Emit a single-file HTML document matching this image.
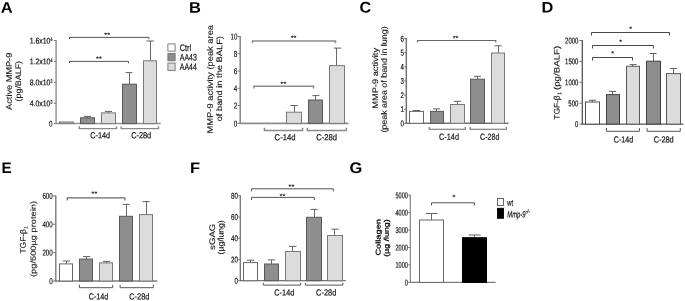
<!DOCTYPE html>
<html><head><meta charset="utf-8"><title>Figure</title>
<style>
html,body{margin:0;padding:0;background:#fff;}
svg{display:block;filter:blur(0.25px);font-family:'Liberation Sans', 'DejaVu Sans', sans-serif;}
text{stroke:#111;stroke-width:0.2px;paint-order:stroke fill;}
text.L{stroke:none;}
text.S{stroke-width:0.1px;letter-spacing:0.1px;}
text.R{stroke-width:0.12px;}
</style></head>
<body>
<svg width="685" height="301" viewBox="0 0 685 301">
<rect x="0" y="0" width="685" height="301" fill="#ffffff" stroke="none"/>
<text class="L" transform="translate(0.8 12.8) scale(1.07 1.0) rotate(0.06)" font-size="15.4" font-weight="bold" fill="#000">A</text>
<text class="L" transform="translate(189.0 12.7) scale(1.07 1.0) rotate(0.06)" font-size="15.4" font-weight="bold" fill="#000">B</text>
<text class="L" transform="translate(359.6 12.6) scale(1.05 1.0) rotate(0.06)" font-size="15.4" font-weight="bold" fill="#000">C</text>
<text class="L" transform="translate(541.6 12.4) scale(1.06 1.0) rotate(0.06)" font-size="15.4" font-weight="bold" fill="#000">D</text>
<text class="L" transform="translate(1.6 172.9) scale(0.99 1.0) rotate(0.06)" font-size="15.4" font-weight="bold" fill="#000">E</text>
<text class="L" transform="translate(189.9 172.9) scale(1.07 1.0) rotate(0.06)" font-size="15.4" font-weight="bold" fill="#000">F</text>
<text class="L" transform="translate(349.4 172.9) scale(1.07 1.0) rotate(0.06)" font-size="15.4" font-weight="bold" fill="#000">G</text>
<line x1="56.10" y1="40.00" x2="56.10" y2="124.10" stroke="#929292" stroke-width="1.5"/>
<line x1="53.85" y1="40.50" x2="56.10" y2="40.50" stroke="#777" stroke-width="1.0"/>
<text transform="translate(52.45 41.00) rotate(0.06)" font-size="5.247999999999999" text-anchor="end" textLength="2.00" lengthAdjust="spacingAndGlyphs" fill="#111">4</text>
<text transform="translate(50.45 43.41) rotate(0.06)" font-size="8.2" text-anchor="end" textLength="20.80" lengthAdjust="spacingAndGlyphs" fill="#111">1.6x10</text>
<line x1="53.85" y1="61.40" x2="56.10" y2="61.40" stroke="#777" stroke-width="1.0"/>
<text transform="translate(52.45 61.90) rotate(0.06)" font-size="5.247999999999999" text-anchor="end" textLength="2.00" lengthAdjust="spacingAndGlyphs" fill="#111">4</text>
<text transform="translate(50.45 64.31) rotate(0.06)" font-size="8.2" text-anchor="end" textLength="20.80" lengthAdjust="spacingAndGlyphs" fill="#111">1.2x10</text>
<line x1="53.85" y1="82.40" x2="56.10" y2="82.40" stroke="#777" stroke-width="1.0"/>
<text transform="translate(52.45 82.90) rotate(0.06)" font-size="5.247999999999999" text-anchor="end" textLength="2.00" lengthAdjust="spacingAndGlyphs" fill="#111">3</text>
<text transform="translate(50.45 85.31) rotate(0.06)" font-size="8.2" text-anchor="end" textLength="20.80" lengthAdjust="spacingAndGlyphs" fill="#111">8.0x10</text>
<line x1="53.85" y1="103.30" x2="56.10" y2="103.30" stroke="#777" stroke-width="1.0"/>
<text transform="translate(52.45 103.80) rotate(0.06)" font-size="5.247999999999999" text-anchor="end" textLength="2.00" lengthAdjust="spacingAndGlyphs" fill="#111">3</text>
<text transform="translate(50.45 106.21) rotate(0.06)" font-size="8.2" text-anchor="end" textLength="20.80" lengthAdjust="spacingAndGlyphs" fill="#111">4.0x10</text>
<line x1="53.85" y1="123.60" x2="56.10" y2="123.60" stroke="#777" stroke-width="1.0"/>
<text transform="translate(52.45 126.51) rotate(0.06)" font-size="8.2" text-anchor="end" textLength="3.50" lengthAdjust="spacingAndGlyphs" fill="#111">0</text>
<line x1="55.35" y1="123.60" x2="160.70" y2="123.60" stroke="#929292" stroke-width="1.5"/>
<rect x="59.50" y="122.00" width="14.00" height="1.30" fill="#f4f4f4" stroke="#686868" stroke-width="0.9"/>
<line x1="87.50" y1="116.40" x2="87.50" y2="117.80" stroke="#686868" stroke-width="1.0"/>
<line x1="83.90" y1="116.40" x2="91.10" y2="116.40" stroke="#606060" stroke-width="1.0"/>
<rect x="80.50" y="117.80" width="14.00" height="5.80" fill="#8e8e8e" stroke="#585858" stroke-width="1.0"/>
<line x1="108.50" y1="111.40" x2="108.50" y2="112.90" stroke="#686868" stroke-width="1.0"/>
<line x1="104.90" y1="111.40" x2="112.10" y2="111.40" stroke="#606060" stroke-width="1.0"/>
<rect x="101.50" y="112.90" width="14.00" height="10.70" fill="#dcdcdc" stroke="#787878" stroke-width="1.0"/>
<line x1="129.50" y1="72.60" x2="129.50" y2="84.20" stroke="#686868" stroke-width="1.0"/>
<line x1="125.60" y1="72.60" x2="132.40" y2="72.60" stroke="#606060" stroke-width="1.0"/>
<rect x="122.50" y="84.20" width="14.00" height="39.40" fill="#8e8e8e" stroke="#585858" stroke-width="1.0"/>
<line x1="150.50" y1="41.00" x2="150.50" y2="60.80" stroke="#686868" stroke-width="1.0"/>
<line x1="146.50" y1="41.00" x2="153.80" y2="41.00" stroke="#606060" stroke-width="1.0"/>
<rect x="143.50" y="60.80" width="13.00" height="62.80" fill="#dcdcdc" stroke="#787878" stroke-width="1.0"/>
<path d="M69.50 39.20 V37.40 H149.00 V39.20" fill="none" stroke="#555" stroke-width="1.0"/>
<path d="M69.50 63.20 V61.40 H128.50 V63.20" fill="none" stroke="#555" stroke-width="1.0"/>
<text class="S" transform="translate(107.30 37.50) rotate(0.06)" font-size="7.3" text-anchor="middle" fill="#111">**</text>
<text class="S" transform="translate(98.90 61.20) rotate(0.06)" font-size="7.3" text-anchor="middle" fill="#111">**</text>
<path d="M79.30 126.30 V128.60 H116.50 V126.30" fill="none" stroke="#8a8a8a" stroke-width="1.4"/>
<path d="M121.20 126.30 V128.60 H158.50 V126.30" fill="none" stroke="#8a8a8a" stroke-width="1.4"/>
<text transform="translate(100.10 138.30) rotate(0.06)" font-size="8.8" text-anchor="middle" textLength="19.80" lengthAdjust="spacingAndGlyphs" fill="#111">C-14d</text>
<text transform="translate(141.20 138.30) rotate(0.06)" font-size="8.8" text-anchor="middle" textLength="20.00" lengthAdjust="spacingAndGlyphs" fill="#111">C-28d</text>
<text transform="translate(11.70 81.30) rotate(-89.94)" font-size="8" text-anchor="middle" textLength="57.20" lengthAdjust="spacingAndGlyphs" fill="#111" class="R">Active MMP-9</text>
<text transform="translate(20.90 81.20) rotate(-89.94)" font-size="8" text-anchor="middle" textLength="40.60" lengthAdjust="spacingAndGlyphs" fill="#111" class="R">(pg/BALF)</text>
<rect x="167.90" y="43.90" width="7.20" height="7.30" fill="#ffffff" stroke="#727272" stroke-width="0.9"/>
<text transform="translate(179.80 50.90) rotate(0.06)" font-size="9.4" textLength="11.30" lengthAdjust="spacingAndGlyphs" fill="#111">Ctrl</text>
<rect x="167.90" y="53.50" width="7.20" height="7.30" fill="#8e8e8e" stroke="#727272" stroke-width="0.9"/>
<text transform="translate(179.80 60.50) rotate(0.06)" font-size="9.4" textLength="17.00" lengthAdjust="spacingAndGlyphs" fill="#111">AA43</text>
<rect x="167.90" y="63.10" width="7.20" height="7.30" fill="#dcdcdc" stroke="#727272" stroke-width="0.9"/>
<text transform="translate(179.80 69.90) rotate(0.06)" font-size="9.4" textLength="17.00" lengthAdjust="spacingAndGlyphs" fill="#111">AA44</text>
<line x1="240.20" y1="36.00" x2="240.20" y2="123.90" stroke="#8c8c8c" stroke-width="1.6"/>
<line x1="237.60" y1="36.50" x2="240.20" y2="36.50" stroke="#777" stroke-width="1.0"/>
<text transform="translate(237.30 39.48) rotate(0.06)" font-size="8.4" text-anchor="end" textLength="6.80" lengthAdjust="spacingAndGlyphs" fill="#111">10</text>
<line x1="237.60" y1="53.70" x2="240.20" y2="53.70" stroke="#777" stroke-width="1.0"/>
<text transform="translate(237.30 56.68) rotate(0.06)" font-size="8.4" text-anchor="end" textLength="3.50" lengthAdjust="spacingAndGlyphs" fill="#111">8</text>
<line x1="237.60" y1="71.00" x2="240.20" y2="71.00" stroke="#777" stroke-width="1.0"/>
<text transform="translate(237.30 73.98) rotate(0.06)" font-size="8.4" text-anchor="end" textLength="3.50" lengthAdjust="spacingAndGlyphs" fill="#111">6</text>
<line x1="237.60" y1="88.30" x2="240.20" y2="88.30" stroke="#777" stroke-width="1.0"/>
<text transform="translate(237.30 91.28) rotate(0.06)" font-size="8.4" text-anchor="end" textLength="3.50" lengthAdjust="spacingAndGlyphs" fill="#111">4</text>
<line x1="237.60" y1="105.60" x2="240.20" y2="105.60" stroke="#777" stroke-width="1.0"/>
<text transform="translate(237.30 108.58) rotate(0.06)" font-size="8.4" text-anchor="end" textLength="3.50" lengthAdjust="spacingAndGlyphs" fill="#111">2</text>
<line x1="237.60" y1="123.40" x2="240.20" y2="123.40" stroke="#777" stroke-width="1.0"/>
<text transform="translate(237.30 126.38) rotate(0.06)" font-size="8.4" text-anchor="end" textLength="3.50" lengthAdjust="spacingAndGlyphs" fill="#111">0</text>
<line x1="239.40" y1="123.40" x2="348.50" y2="123.40" stroke="#8c8c8c" stroke-width="1.6"/>
<line x1="294.50" y1="105.50" x2="294.50" y2="112.20" stroke="#686868" stroke-width="1.0"/>
<line x1="290.40" y1="105.50" x2="297.70" y2="105.50" stroke="#606060" stroke-width="1.0"/>
<rect x="286.50" y="112.20" width="15.00" height="11.20" fill="#dcdcdc" stroke="#787878" stroke-width="1.0"/>
<line x1="315.50" y1="95.60" x2="315.50" y2="100.00" stroke="#686868" stroke-width="1.0"/>
<line x1="312.40" y1="95.60" x2="319.40" y2="95.60" stroke="#606060" stroke-width="1.0"/>
<rect x="308.50" y="100.00" width="14.00" height="23.40" fill="#8e8e8e" stroke="#585858" stroke-width="1.0"/>
<line x1="336.50" y1="48.10" x2="336.50" y2="65.60" stroke="#686868" stroke-width="1.0"/>
<line x1="333.80" y1="48.10" x2="341.10" y2="48.10" stroke="#606060" stroke-width="1.0"/>
<rect x="329.50" y="65.60" width="15.00" height="57.80" fill="#dcdcdc" stroke="#787878" stroke-width="1.0"/>
<path d="M252.50 43.30 V41.10 H335.50 V43.30" fill="none" stroke="#8c8c8c" stroke-width="1.5"/>
<path d="M253.90 88.60 V86.20 H313.50 V88.60" fill="none" stroke="#8c8c8c" stroke-width="1.5"/>
<text class="S" transform="translate(293.60 40.40) rotate(0.06)" font-size="7.3" text-anchor="middle" fill="#111">**</text>
<text class="S" transform="translate(283.50 86.40) rotate(0.06)" font-size="7.3" text-anchor="middle" fill="#111">**</text>
<path d="M264.40 127.80 V130.40 H302.60 V127.80" fill="none" stroke="#8a8a8a" stroke-width="1.5"/>
<path d="M307.30 127.80 V130.40 H346.30 V127.80" fill="none" stroke="#8a8a8a" stroke-width="1.5"/>
<text transform="translate(285.10 140.20) rotate(0.06)" font-size="8.8" text-anchor="middle" textLength="21.00" lengthAdjust="spacingAndGlyphs" fill="#111">C-14d</text>
<text transform="translate(326.70 140.20) rotate(0.06)" font-size="8.8" text-anchor="middle" textLength="20.80" lengthAdjust="spacingAndGlyphs" fill="#111">C-28d</text>
<text transform="translate(212.70 79.20) rotate(-89.94)" font-size="8" text-anchor="middle" textLength="108.50" lengthAdjust="spacingAndGlyphs" fill="#111" class="R">MMP-9 activity (peak area</text>
<text transform="translate(222.10 78.70) rotate(-89.94)" font-size="8" text-anchor="middle" textLength="85.20" lengthAdjust="spacingAndGlyphs" fill="#111" class="R">of band in the BALF)</text>
<line x1="406.30" y1="38.00" x2="406.30" y2="123.80" stroke="#747474" stroke-width="1.5"/>
<line x1="404.15" y1="38.50" x2="406.30" y2="38.50" stroke="#777" stroke-width="1.0"/>
<text transform="translate(403.95 41.41) rotate(0.06)" font-size="8.2" text-anchor="end" textLength="3.40" lengthAdjust="spacingAndGlyphs" fill="#111">6</text>
<line x1="404.15" y1="52.60" x2="406.30" y2="52.60" stroke="#777" stroke-width="1.0"/>
<text transform="translate(403.95 55.51) rotate(0.06)" font-size="8.2" text-anchor="end" textLength="3.40" lengthAdjust="spacingAndGlyphs" fill="#111">5</text>
<line x1="404.15" y1="66.80" x2="406.30" y2="66.80" stroke="#777" stroke-width="1.0"/>
<text transform="translate(403.95 69.71) rotate(0.06)" font-size="8.2" text-anchor="end" textLength="3.40" lengthAdjust="spacingAndGlyphs" fill="#111">4</text>
<line x1="404.15" y1="80.90" x2="406.30" y2="80.90" stroke="#777" stroke-width="1.0"/>
<text transform="translate(403.95 83.81) rotate(0.06)" font-size="8.2" text-anchor="end" textLength="3.40" lengthAdjust="spacingAndGlyphs" fill="#111">3</text>
<line x1="404.15" y1="95.10" x2="406.30" y2="95.10" stroke="#777" stroke-width="1.0"/>
<text transform="translate(403.95 98.01) rotate(0.06)" font-size="8.2" text-anchor="end" textLength="3.40" lengthAdjust="spacingAndGlyphs" fill="#111">2</text>
<line x1="404.15" y1="109.20" x2="406.30" y2="109.20" stroke="#777" stroke-width="1.0"/>
<text transform="translate(403.95 112.11) rotate(0.06)" font-size="8.2" text-anchor="end" textLength="3.40" lengthAdjust="spacingAndGlyphs" fill="#111">1</text>
<line x1="404.15" y1="123.30" x2="406.30" y2="123.30" stroke="#777" stroke-width="1.0"/>
<text transform="translate(403.95 126.21) rotate(0.06)" font-size="8.2" text-anchor="end" textLength="3.40" lengthAdjust="spacingAndGlyphs" fill="#111">0</text>
<line x1="405.55" y1="123.30" x2="508.50" y2="123.30" stroke="#747474" stroke-width="1.5"/>
<line x1="416.50" y1="110.50" x2="416.50" y2="111.40" stroke="#686868" stroke-width="1.0"/>
<line x1="412.90" y1="110.50" x2="420.10" y2="110.50" stroke="#606060" stroke-width="1.0"/>
<rect x="409.50" y="111.40" width="14.00" height="11.90" fill="#ffffff" stroke="#686868" stroke-width="1.0"/>
<line x1="436.50" y1="108.90" x2="436.50" y2="111.40" stroke="#686868" stroke-width="1.0"/>
<line x1="432.90" y1="108.90" x2="440.10" y2="108.90" stroke="#606060" stroke-width="1.0"/>
<rect x="430.50" y="111.40" width="13.00" height="11.90" fill="#8e8e8e" stroke="#585858" stroke-width="1.0"/>
<line x1="457.50" y1="101.30" x2="457.50" y2="104.50" stroke="#686868" stroke-width="1.0"/>
<line x1="453.90" y1="101.30" x2="461.10" y2="101.30" stroke="#606060" stroke-width="1.0"/>
<rect x="450.50" y="104.50" width="14.00" height="18.80" fill="#dcdcdc" stroke="#787878" stroke-width="1.0"/>
<line x1="477.50" y1="76.30" x2="477.50" y2="79.20" stroke="#686868" stroke-width="1.0"/>
<line x1="473.90" y1="76.30" x2="481.10" y2="76.30" stroke="#606060" stroke-width="1.0"/>
<rect x="470.50" y="79.20" width="14.00" height="44.10" fill="#8e8e8e" stroke="#585858" stroke-width="1.0"/>
<line x1="498.50" y1="45.80" x2="498.50" y2="53.00" stroke="#686868" stroke-width="1.0"/>
<line x1="494.40" y1="45.80" x2="501.70" y2="45.80" stroke="#606060" stroke-width="1.0"/>
<rect x="491.50" y="53.00" width="13.00" height="70.30" fill="#dcdcdc" stroke="#787878" stroke-width="1.0"/>
<path d="M417.60 42.50 V40.50 H495.80 V42.50" fill="none" stroke="#666" stroke-width="1.1"/>
<text class="S" transform="translate(455.60 40.70) rotate(0.06)" font-size="7.3" text-anchor="middle" fill="#111">**</text>
<path d="M429.20 126.90 V129.20 H465.40 V126.90" fill="none" stroke="#6a6a6a" stroke-width="1.1"/>
<path d="M470.10 126.90 V129.20 H506.30 V126.90" fill="none" stroke="#6a6a6a" stroke-width="1.1"/>
<text transform="translate(449.00 139.80) rotate(0.06)" font-size="8.8" text-anchor="middle" textLength="19.90" lengthAdjust="spacingAndGlyphs" fill="#111">C-14d</text>
<text transform="translate(489.70 139.80) rotate(0.06)" font-size="8.8" text-anchor="middle" textLength="19.40" lengthAdjust="spacingAndGlyphs" fill="#111">C-28d</text>
<text transform="translate(378.10 78.40) rotate(-89.94)" font-size="8" text-anchor="middle" textLength="60.90" lengthAdjust="spacingAndGlyphs" fill="#111" class="R">MMP-9 activity</text>
<text transform="translate(386.80 79.50) rotate(-89.94)" font-size="8" text-anchor="middle" textLength="106.20" lengthAdjust="spacingAndGlyphs" fill="#111" class="R">(peak area of band in lung)</text>
<line x1="582.30" y1="40.00" x2="582.30" y2="124.60" stroke="#555" stroke-width="1.3"/>
<line x1="579.35" y1="40.50" x2="582.30" y2="40.50" stroke="#777" stroke-width="1.0"/>
<text transform="translate(578.35 43.45) rotate(0.06)" font-size="8.3" text-anchor="end" textLength="13.30" lengthAdjust="spacingAndGlyphs" fill="#111">2000</text>
<line x1="579.35" y1="61.40" x2="582.30" y2="61.40" stroke="#777" stroke-width="1.0"/>
<text transform="translate(578.35 64.35) rotate(0.06)" font-size="8.3" text-anchor="end" textLength="13.30" lengthAdjust="spacingAndGlyphs" fill="#111">1500</text>
<line x1="579.35" y1="82.30" x2="582.30" y2="82.30" stroke="#777" stroke-width="1.0"/>
<text transform="translate(578.35 85.25) rotate(0.06)" font-size="8.3" text-anchor="end" textLength="13.30" lengthAdjust="spacingAndGlyphs" fill="#111">1000</text>
<line x1="579.35" y1="103.20" x2="582.30" y2="103.20" stroke="#777" stroke-width="1.0"/>
<text transform="translate(578.35 106.15) rotate(0.06)" font-size="8.3" text-anchor="end" textLength="10.00" lengthAdjust="spacingAndGlyphs" fill="#111">500</text>
<line x1="579.35" y1="124.10" x2="582.30" y2="124.10" stroke="#777" stroke-width="1.0"/>
<text transform="translate(578.35 127.05) rotate(0.06)" font-size="8.3" text-anchor="end" textLength="3.30" lengthAdjust="spacingAndGlyphs" fill="#111">0</text>
<line x1="581.65" y1="124.10" x2="683.20" y2="124.10" stroke="#555" stroke-width="1.3"/>
<line x1="592.50" y1="100.20" x2="592.50" y2="102.00" stroke="#686868" stroke-width="1.0"/>
<line x1="588.90" y1="100.20" x2="596.10" y2="100.20" stroke="#606060" stroke-width="1.0"/>
<rect x="585.50" y="102.00" width="14.00" height="22.10" fill="#ffffff" stroke="#505050" stroke-width="1.0"/>
<line x1="612.50" y1="91.40" x2="612.50" y2="94.60" stroke="#686868" stroke-width="1.0"/>
<line x1="608.90" y1="91.40" x2="616.10" y2="91.40" stroke="#606060" stroke-width="1.0"/>
<rect x="606.50" y="94.60" width="13.00" height="29.50" fill="#8e8e8e" stroke="#404040" stroke-width="1.0"/>
<line x1="632.50" y1="64.60" x2="632.50" y2="66.30" stroke="#686868" stroke-width="1.0"/>
<line x1="629.60" y1="64.60" x2="636.60" y2="64.60" stroke="#606060" stroke-width="1.0"/>
<rect x="626.50" y="66.30" width="13.00" height="57.80" fill="#dcdcdc" stroke="#5a5a5a" stroke-width="1.0"/>
<line x1="653.50" y1="53.50" x2="653.50" y2="61.20" stroke="#686868" stroke-width="1.0"/>
<line x1="649.80" y1="53.50" x2="656.60" y2="53.50" stroke="#606060" stroke-width="1.0"/>
<rect x="646.50" y="61.20" width="14.00" height="62.90" fill="#8e8e8e" stroke="#404040" stroke-width="1.0"/>
<line x1="673.50" y1="68.50" x2="673.50" y2="73.60" stroke="#686868" stroke-width="1.0"/>
<line x1="670.20" y1="68.50" x2="676.80" y2="68.50" stroke="#606060" stroke-width="1.0"/>
<rect x="666.50" y="73.60" width="14.00" height="50.50" fill="#dcdcdc" stroke="#5a5a5a" stroke-width="1.0"/>
<path d="M591.50 35.50 V32.50 H669.50 V35.50" fill="none" stroke="#484848" stroke-width="1.0"/>
<path d="M592.50 48.50 V45.50 H653.50 V48.50" fill="none" stroke="#484848" stroke-width="1.0"/>
<path d="M592.50 60.50 V57.50 H632.50 V60.50" fill="none" stroke="#484848" stroke-width="1.0"/>
<text class="S" transform="translate(630.60 31.50) rotate(0.06)" font-size="7.3" text-anchor="middle" fill="#111">*</text>
<text class="S" transform="translate(620.80 44.40) rotate(0.06)" font-size="7.3" text-anchor="middle" fill="#111">*</text>
<text class="S" transform="translate(612.80 56.10) rotate(0.06)" font-size="7.3" text-anchor="middle" fill="#111">*</text>
<path d="M606.50 128.10 V131.30 H639.40 V128.10" fill="none" stroke="#555" stroke-width="1.0"/>
<path d="M647.10 128.10 V131.30 H680.30 V128.10" fill="none" stroke="#555" stroke-width="1.0"/>
<text transform="translate(623.50 142.50) rotate(0.06)" font-size="8.8" text-anchor="middle" textLength="19.40" lengthAdjust="spacingAndGlyphs" fill="#111">C-14d</text>
<text transform="translate(663.70 142.50) rotate(0.06)" font-size="8.8" text-anchor="middle" textLength="20.00" lengthAdjust="spacingAndGlyphs" fill="#111">C-28d</text>
<text transform="translate(559.50 119.70) rotate(-89.94)" font-size="8" textLength="24.30" lengthAdjust="spacingAndGlyphs" fill="#111" class="R">TGF-β</text>
<text transform="translate(561.30 94.70) rotate(-89.94)" font-size="5.4" textLength="2.70" lengthAdjust="spacingAndGlyphs" fill="#111" class="R">1</text>
<text transform="translate(559.50 90.00) rotate(-89.94)" font-size="8" textLength="44.20" lengthAdjust="spacingAndGlyphs" fill="#111" class="R">(pg/BALF)</text>
<line x1="55.80" y1="195.40" x2="55.80" y2="281.50" stroke="#7c7c7c" stroke-width="1.4"/>
<line x1="52.90" y1="195.90" x2="55.80" y2="195.90" stroke="#777" stroke-width="1.0"/>
<text transform="translate(52.70 198.88) rotate(0.06)" font-size="8.4" text-anchor="end" textLength="10.30" lengthAdjust="spacingAndGlyphs" fill="#111">600</text>
<line x1="52.90" y1="224.20" x2="55.80" y2="224.20" stroke="#777" stroke-width="1.0"/>
<text transform="translate(52.70 227.18) rotate(0.06)" font-size="8.4" text-anchor="end" textLength="10.30" lengthAdjust="spacingAndGlyphs" fill="#111">400</text>
<line x1="52.90" y1="252.60" x2="55.80" y2="252.60" stroke="#777" stroke-width="1.0"/>
<text transform="translate(52.70 255.58) rotate(0.06)" font-size="8.4" text-anchor="end" textLength="10.30" lengthAdjust="spacingAndGlyphs" fill="#111">200</text>
<line x1="52.90" y1="281.00" x2="55.80" y2="281.00" stroke="#777" stroke-width="1.0"/>
<text transform="translate(52.70 283.98) rotate(0.06)" font-size="8.4" text-anchor="end" textLength="3.50" lengthAdjust="spacingAndGlyphs" fill="#111">0</text>
<line x1="55.10" y1="281.00" x2="157.30" y2="281.00" stroke="#7c7c7c" stroke-width="1.4"/>
<line x1="66.50" y1="261.00" x2="66.50" y2="263.90" stroke="#686868" stroke-width="1.0"/>
<line x1="62.90" y1="261.00" x2="70.10" y2="261.00" stroke="#606060" stroke-width="1.0"/>
<rect x="59.50" y="263.90" width="13.00" height="17.10" fill="#ffffff" stroke="#686868" stroke-width="1.0"/>
<line x1="86.50" y1="256.60" x2="86.50" y2="259.10" stroke="#686868" stroke-width="1.0"/>
<line x1="82.90" y1="256.60" x2="90.10" y2="256.60" stroke="#606060" stroke-width="1.0"/>
<rect x="79.50" y="259.10" width="13.00" height="21.90" fill="#8e8e8e" stroke="#585858" stroke-width="1.0"/>
<line x1="106.50" y1="261.40" x2="106.50" y2="262.90" stroke="#686868" stroke-width="1.0"/>
<line x1="102.90" y1="261.40" x2="110.10" y2="261.40" stroke="#606060" stroke-width="1.0"/>
<rect x="99.50" y="262.90" width="13.00" height="18.10" fill="#dcdcdc" stroke="#787878" stroke-width="1.0"/>
<line x1="126.50" y1="204.40" x2="126.50" y2="216.30" stroke="#686868" stroke-width="1.0"/>
<line x1="122.70" y1="204.40" x2="129.70" y2="204.40" stroke="#606060" stroke-width="1.0"/>
<rect x="119.50" y="216.30" width="13.00" height="64.70" fill="#8e8e8e" stroke="#585858" stroke-width="1.0"/>
<line x1="146.50" y1="201.60" x2="146.50" y2="214.60" stroke="#686868" stroke-width="1.0"/>
<line x1="142.60" y1="201.60" x2="149.60" y2="201.60" stroke="#606060" stroke-width="1.0"/>
<rect x="139.50" y="214.60" width="13.00" height="66.40" fill="#dcdcdc" stroke="#787878" stroke-width="1.0"/>
<path d="M67.30 200.60 V197.80 H124.90 V200.60" fill="none" stroke="#6a6a6a" stroke-width="1.2"/>
<text class="S" transform="translate(94.55 196.20) rotate(0.06)" font-size="7.3" text-anchor="middle" fill="#111">**</text>
<path d="M79.40 284.70 V287.70 H112.70 V284.70" fill="none" stroke="#555" stroke-width="1.0"/>
<path d="M120.10 284.70 V287.70 H153.30 V284.70" fill="none" stroke="#555" stroke-width="1.0"/>
<text transform="translate(98.50 299.40) rotate(0.06)" font-size="8.8" text-anchor="middle" textLength="19.70" lengthAdjust="spacingAndGlyphs" fill="#111">C-14d</text>
<text transform="translate(139.30 299.40) rotate(0.06)" font-size="8.8" text-anchor="middle" textLength="20.20" lengthAdjust="spacingAndGlyphs" fill="#111">C-28d</text>
<text transform="translate(25.70 253.50) rotate(-89.94)" font-size="8" textLength="24.40" lengthAdjust="spacingAndGlyphs" fill="#111" class="R">TGF-β</text>
<text transform="translate(27.50 228.80) rotate(-89.94)" font-size="5.4" textLength="2.50" lengthAdjust="spacingAndGlyphs" fill="#111" class="R">1</text>
<text transform="translate(35.80 239.00) rotate(-89.94)" font-size="7.4" text-anchor="middle" textLength="76.00" lengthAdjust="spacingAndGlyphs" fill="#111" class="R">(pg/500µg protein)</text>
<line x1="240.30" y1="195.20" x2="240.30" y2="281.20" stroke="#747474" stroke-width="1.3"/>
<line x1="238.25" y1="195.70" x2="240.30" y2="195.70" stroke="#777" stroke-width="1.0"/>
<text transform="translate(238.05 198.72) rotate(0.06)" font-size="8.5" text-anchor="end" textLength="7.00" lengthAdjust="spacingAndGlyphs" fill="#111">80</text>
<line x1="238.25" y1="217.00" x2="240.30" y2="217.00" stroke="#777" stroke-width="1.0"/>
<text transform="translate(238.05 220.02) rotate(0.06)" font-size="8.5" text-anchor="end" textLength="7.00" lengthAdjust="spacingAndGlyphs" fill="#111">60</text>
<line x1="238.25" y1="238.30" x2="240.30" y2="238.30" stroke="#777" stroke-width="1.0"/>
<text transform="translate(238.05 241.32) rotate(0.06)" font-size="8.5" text-anchor="end" textLength="7.00" lengthAdjust="spacingAndGlyphs" fill="#111">40</text>
<line x1="238.25" y1="259.60" x2="240.30" y2="259.60" stroke="#777" stroke-width="1.0"/>
<text transform="translate(238.05 262.62) rotate(0.06)" font-size="8.5" text-anchor="end" textLength="7.00" lengthAdjust="spacingAndGlyphs" fill="#111">20</text>
<line x1="238.25" y1="280.70" x2="240.30" y2="280.70" stroke="#777" stroke-width="1.0"/>
<text transform="translate(238.05 283.72) rotate(0.06)" font-size="8.5" text-anchor="end" textLength="3.50" lengthAdjust="spacingAndGlyphs" fill="#111">0</text>
<line x1="239.65" y1="280.70" x2="345.80" y2="280.70" stroke="#747474" stroke-width="1.3"/>
<line x1="250.50" y1="260.20" x2="250.50" y2="262.60" stroke="#686868" stroke-width="1.0"/>
<line x1="246.90" y1="260.20" x2="254.10" y2="260.20" stroke="#606060" stroke-width="1.0"/>
<rect x="243.50" y="262.60" width="14.00" height="18.10" fill="#ffffff" stroke="#686868" stroke-width="1.0"/>
<line x1="271.50" y1="259.90" x2="271.50" y2="264.00" stroke="#686868" stroke-width="1.0"/>
<line x1="267.90" y1="259.90" x2="275.10" y2="259.90" stroke="#606060" stroke-width="1.0"/>
<rect x="264.50" y="264.00" width="14.00" height="16.70" fill="#8e8e8e" stroke="#585858" stroke-width="1.0"/>
<line x1="292.50" y1="246.40" x2="292.50" y2="251.50" stroke="#686868" stroke-width="1.0"/>
<line x1="289.20" y1="246.40" x2="296.50" y2="246.40" stroke="#606060" stroke-width="1.0"/>
<rect x="285.50" y="251.50" width="15.00" height="29.20" fill="#dcdcdc" stroke="#787878" stroke-width="1.0"/>
<line x1="314.50" y1="209.40" x2="314.50" y2="217.30" stroke="#686868" stroke-width="1.0"/>
<line x1="310.40" y1="209.40" x2="317.70" y2="209.40" stroke="#606060" stroke-width="1.0"/>
<rect x="306.50" y="217.30" width="15.00" height="63.40" fill="#8e8e8e" stroke="#585858" stroke-width="1.0"/>
<line x1="334.50" y1="229.20" x2="334.50" y2="235.50" stroke="#686868" stroke-width="1.0"/>
<line x1="331.40" y1="229.20" x2="338.70" y2="229.20" stroke="#606060" stroke-width="1.0"/>
<rect x="327.50" y="235.50" width="15.00" height="45.20" fill="#dcdcdc" stroke="#787878" stroke-width="1.0"/>
<path d="M251.50 191.40 V188.80 H333.30 V191.40" fill="none" stroke="#555" stroke-width="1.0"/>
<path d="M251.50 200.00 V197.40 H314.30 V200.00" fill="none" stroke="#555" stroke-width="1.0"/>
<text class="S" transform="translate(291.50 189.30) rotate(0.06)" font-size="7.3" text-anchor="middle" fill="#111">**</text>
<text class="S" transform="translate(282.50 198.70) rotate(0.06)" font-size="7.3" text-anchor="middle" fill="#111">**</text>
<path d="M263.30 282.80 V285.10 H300.70 V282.80" fill="none" stroke="#555" stroke-width="1.0"/>
<path d="M305.40 282.80 V285.10 H342.90 V282.80" fill="none" stroke="#555" stroke-width="1.0"/>
<text transform="translate(284.30 295.50) rotate(0.06)" font-size="8.8" text-anchor="middle" textLength="20.00" lengthAdjust="spacingAndGlyphs" fill="#111">C-14d</text>
<text transform="translate(326.20 295.50) rotate(0.06)" font-size="8.8" text-anchor="middle" textLength="20.20" lengthAdjust="spacingAndGlyphs" fill="#111">C-28d</text>
<text transform="translate(214.90 236.80) rotate(-89.94)" font-size="8" text-anchor="middle" textLength="26.20" lengthAdjust="spacingAndGlyphs" fill="#111" class="R">sGAG</text>
<text transform="translate(223.50 237.40) rotate(-89.94)" font-size="8" text-anchor="middle" textLength="34.00" lengthAdjust="spacingAndGlyphs" fill="#111" class="R">(µg/lung)</text>
<line x1="410.30" y1="194.70" x2="410.30" y2="282.90" stroke="#7c7c7c" stroke-width="1.1"/>
<line x1="408.25" y1="195.20" x2="410.30" y2="195.20" stroke="#777" stroke-width="1.0"/>
<text transform="translate(407.85 198.18) rotate(0.06)" font-size="8.4" text-anchor="end" textLength="12.40" lengthAdjust="spacingAndGlyphs" fill="#111">5000</text>
<line x1="408.25" y1="212.60" x2="410.30" y2="212.60" stroke="#777" stroke-width="1.0"/>
<text transform="translate(407.85 215.58) rotate(0.06)" font-size="8.4" text-anchor="end" textLength="12.40" lengthAdjust="spacingAndGlyphs" fill="#111">4000</text>
<line x1="408.25" y1="230.10" x2="410.30" y2="230.10" stroke="#777" stroke-width="1.0"/>
<text transform="translate(407.85 233.08) rotate(0.06)" font-size="8.4" text-anchor="end" textLength="12.40" lengthAdjust="spacingAndGlyphs" fill="#111">3000</text>
<line x1="408.25" y1="247.50" x2="410.30" y2="247.50" stroke="#777" stroke-width="1.0"/>
<text transform="translate(407.85 250.48) rotate(0.06)" font-size="8.4" text-anchor="end" textLength="12.40" lengthAdjust="spacingAndGlyphs" fill="#111">2000</text>
<line x1="408.25" y1="264.90" x2="410.30" y2="264.90" stroke="#777" stroke-width="1.0"/>
<text transform="translate(407.85 267.88) rotate(0.06)" font-size="8.4" text-anchor="end" textLength="12.40" lengthAdjust="spacingAndGlyphs" fill="#111">1000</text>
<line x1="408.25" y1="282.40" x2="410.30" y2="282.40" stroke="#777" stroke-width="1.0"/>
<text transform="translate(407.85 285.38) rotate(0.06)" font-size="8.4" text-anchor="end" textLength="3.20" lengthAdjust="spacingAndGlyphs" fill="#111">0</text>
<line x1="409.75" y1="282.40" x2="495.70" y2="282.40" stroke="#7c7c7c" stroke-width="1.1"/>
<line x1="431.50" y1="213.50" x2="431.50" y2="220.00" stroke="#686868" stroke-width="1.0"/>
<line x1="425.80" y1="213.50" x2="437.50" y2="213.50" stroke="#606060" stroke-width="1.0"/>
<rect x="419.50" y="220.00" width="24.00" height="62.40" fill="#ffffff" stroke="#666" stroke-width="1.0"/>
<line x1="474.50" y1="235.00" x2="474.50" y2="237.70" stroke="#686868" stroke-width="1.0"/>
<line x1="468.70" y1="235.00" x2="480.70" y2="235.00" stroke="#606060" stroke-width="1.0"/>
<rect x="462.50" y="237.70" width="24.00" height="44.70" fill="#000" stroke="#000" stroke-width="1.0"/>
<path d="M431.50 205.50 V202.80 H474.40 V205.50" fill="none" stroke="#555" stroke-width="1.0"/>
<text class="S" transform="translate(453.90 199.70) rotate(0.06)" font-size="7.3" text-anchor="middle" fill="#111">*</text>
<text transform="translate(380.60 237.30) rotate(-89.94)" font-size="6.8" text-anchor="middle" textLength="36.60" lengthAdjust="spacingAndGlyphs" fill="#111" style="stroke-width:0.3px" class="R">Collagen</text>
<text transform="translate(388.70 238.00) rotate(-89.94)" font-size="6.8" text-anchor="middle" textLength="37.30" lengthAdjust="spacingAndGlyphs" fill="#111" style="stroke-width:0.3px" class="R">(µg /lung)</text>
<rect x="497.50" y="198.50" width="6.00" height="7.00" fill="#ffffff" stroke="#555" stroke-width="0.9"/>
<rect x="497.50" y="208.30" width="6.00" height="10.00" fill="#000" stroke="#000" stroke-width="0.9"/>
<text transform="translate(507.30 205.70) rotate(0.06)" font-size="8.8" textLength="5.80" lengthAdjust="spacingAndGlyphs" fill="#111">wt</text>
<text transform="translate(507.3 217.5) rotate(0.06)" font-size="9.2" font-style="italic" fill="#111"><tspan textLength="18.2" lengthAdjust="spacingAndGlyphs">Mmp-9</tspan><tspan font-size="6.2" dy="-4.0" textLength="4.4" lengthAdjust="spacingAndGlyphs">-/-</tspan></text>
</svg>
</body></html>
